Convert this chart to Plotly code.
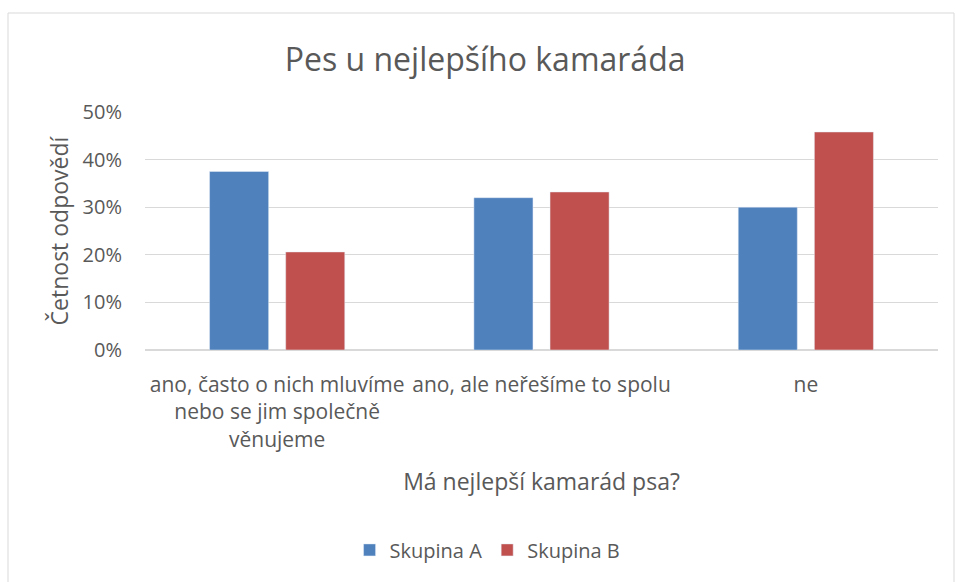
import plotly.graph_objects as go

categories = ["ano, často o nich mluvíme<br>nebo se jim společně<br>věnujeme",
              "ano, ale neřešíme to spolu",
              "ne"]
skupina_a = [0.375, 0.320, 0.300]
skupina_b = [0.206, 0.332, 0.458]
y_ticks = [0, 0.1, 0.2, 0.3, 0.4, 0.5]

FONT = "Open Sans"
TXT = "#595959"

fig = go.Figure()
fig.add_trace(go.Bar(name="Skupina A", x=categories, y=skupina_a, marker_color="#4F81BD"))
fig.add_trace(go.Bar(name="Skupina B", x=categories, y=skupina_b, marker_color="#C0504D"))

fig.update_layout(
    width=955, height=582,
    margin=dict(l=145, r=17, t=112, b=232),
    paper_bgcolor="white", plot_bgcolor="white",
    barmode="group", bargap=0.424, bargroupgap=0.224,
    font=dict(family=FONT, color=TXT, size=20),
    title=dict(text="Pes u nejlepšího kamaráda", x=0.508, xanchor="center",
               y=1 - 60 / 582, yanchor="middle", font=dict(size=32, color=TXT)),
    showlegend=True,
    legend=dict(orientation="h", x=0.432, xanchor="center", y=-0.84, yanchor="middle",
                font=dict(size=20, color=TXT)),
    xaxis=dict(showgrid=False, showline=False, ticks="", ticklabelstandoff=20,
               tickfont=dict(size=21, color=TXT),
               title=dict(text="Má nejlepší kamarád psa?", font=dict(size=23, color=TXT), standoff=22)),
    yaxis=dict(range=[0, 0.5], tickvals=y_ticks, tickformat=".0%", showgrid=True,
               gridcolor="#D9D9D9", gridwidth=1, zeroline=True, zerolinecolor="#D9D9D9",
               showline=False, ticks="", ticklabelstandoff=22,
               tickfont=dict(size=20, color=TXT),
               title=dict(text="Četnost odpovědí", font=dict(size=23, color=TXT), standoff=7)),
    shapes=[dict(type="rect", xref="paper", yref="paper",
                 x0=(8 - 145) / 793, x1=(954 - 145) / 793,
                 y0=(350 - 600) / 238, y1=(350 - 13) / 238,
                 line=dict(color="#D9D9D9", width=1), fillcolor="rgba(0,0,0,0)", layer="below")],
)

fig.write_html("out.html", config={"displayModeBar": False},
               post_script="document.body.style.margin='0';document.body.style.overflow='hidden';")
